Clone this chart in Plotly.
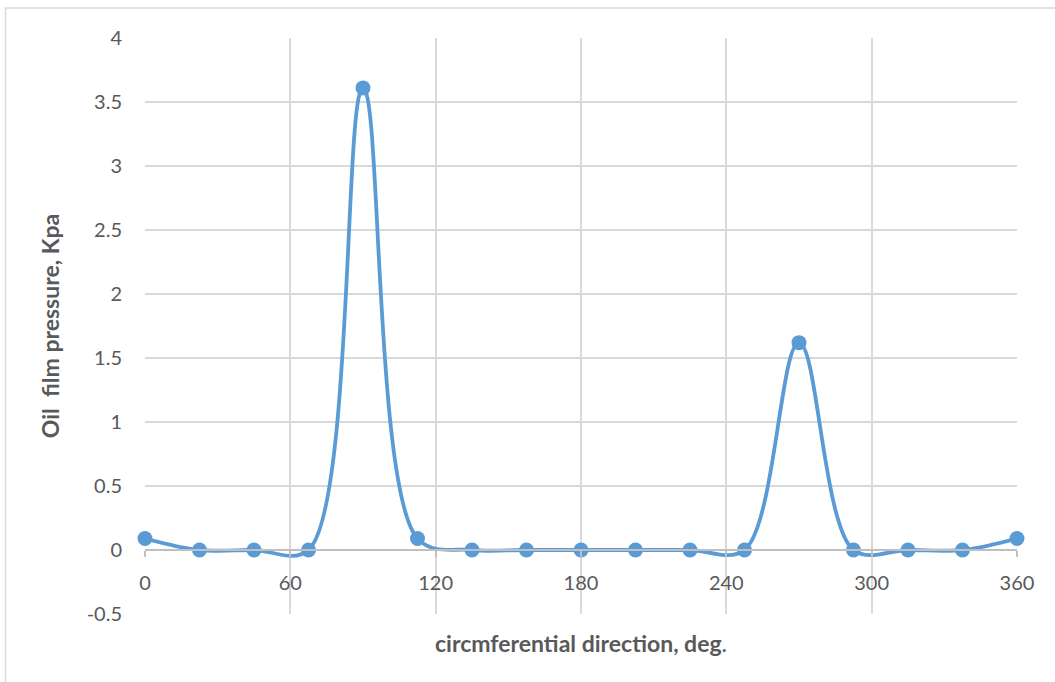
import plotly.graph_objects as go

angle_deg = [0, 22.5, 45, 67.5, 90, 112.5, 135, 157.5, 180, 202.5, 225, 247.5, 270, 292.5, 315, 337.5, 360]
pressure_kpa = [0.09, 0.0, 0.0, 0.0, 3.61, 0.09, 0.0, 0.0, 0.0, 0.0, 0.0, 0.0, 1.62, 0.0, 0.0, 0.0, 0.09]
x_ticks = [0, 60, 120, 180, 240, 300, 360]
y_ticks = [-0.5, 0, 0.5, 1, 1.5, 2, 2.5, 3, 3.5, 4]
y_labels = ["-0.5", "0", "0.5", "1", "1.5", "2", "2.5", "3", "3.5", "4"]

FONT = "Lato"
TXT = "#595959"
BLUE = "#5B9BD5"

fig = go.Figure()
fig.add_trace(go.Scatter(
    x=angle_deg, y=pressure_kpa, mode="lines+markers",
    line=dict(color=BLUE, width=3.8, shape="spline", smoothing=1.0),
    marker=dict(color=BLUE, size=15),
    showlegend=False, cliponaxis=False,
))

W, H = 1055, 682
L, R, T, B = 145, 38, 38, 68
pw, ph = W - L - R, H - T - B

ymin, ymax = -0.5, 4
zero_pos = (0 - ymin) / (ymax - ymin)

fig.update_layout(
    width=W, height=H,
    margin=dict(l=L, r=R, t=T, b=B),
    paper_bgcolor="white", plot_bgcolor="white",
    font=dict(family=FONT, color=TXT, size=20),
    xaxis=dict(
        range=[0, 360], tickvals=x_ticks, ticktext=[str(v) for v in x_ticks],
        showgrid=True, gridcolor="#D9D9D9", gridwidth=1.5,
        zeroline=False, showline=True, linecolor="#BFBFBF", linewidth=1.5,
        anchor="free", position=zero_pos,
        ticks="outside", ticklen=6, tickcolor="#BFBFBF", tickwidth=1.5,
        ticklabelstandoff=9,
        tickfont=dict(family=FONT, size=20, color=TXT),
    ),
    yaxis=dict(
        range=[ymin, ymax], tickvals=y_ticks, ticktext=y_labels,
        showgrid=True, gridcolor="#D9D9D9", gridwidth=1.5,
        zeroline=False, showline=False,
        ticks="", ticklabelstandoff=22,
        tickfont=dict(family=FONT, size=20, color=TXT),
        title=dict(text="<b>Oil  film pressure, Kpa</b>", font=dict(family=FONT, size=23, color=TXT), standoff=20),
    ),
    shapes=[
        dict(type="rect", xref="paper", yref="paper",
             x0=(5.5 - L) / pw, x1=(W + 20 - L) / pw,
             y0=(H - B - (H + 20)) / ph, y1=(H - B - 8) / ph,
             line=dict(color="#D9D9D9", width=1.5), layer="below"),
    ],
    annotations=[
        dict(text="<b>circmferential direction, deg</b>.", xref="paper", yref="paper",
             x=0.5, y=(H - B - 643) / ph, showarrow=False,
             font=dict(family=FONT, size=23, color=TXT), xanchor="center", yanchor="middle"),
    ],
)

fig.write_html("out.html")
